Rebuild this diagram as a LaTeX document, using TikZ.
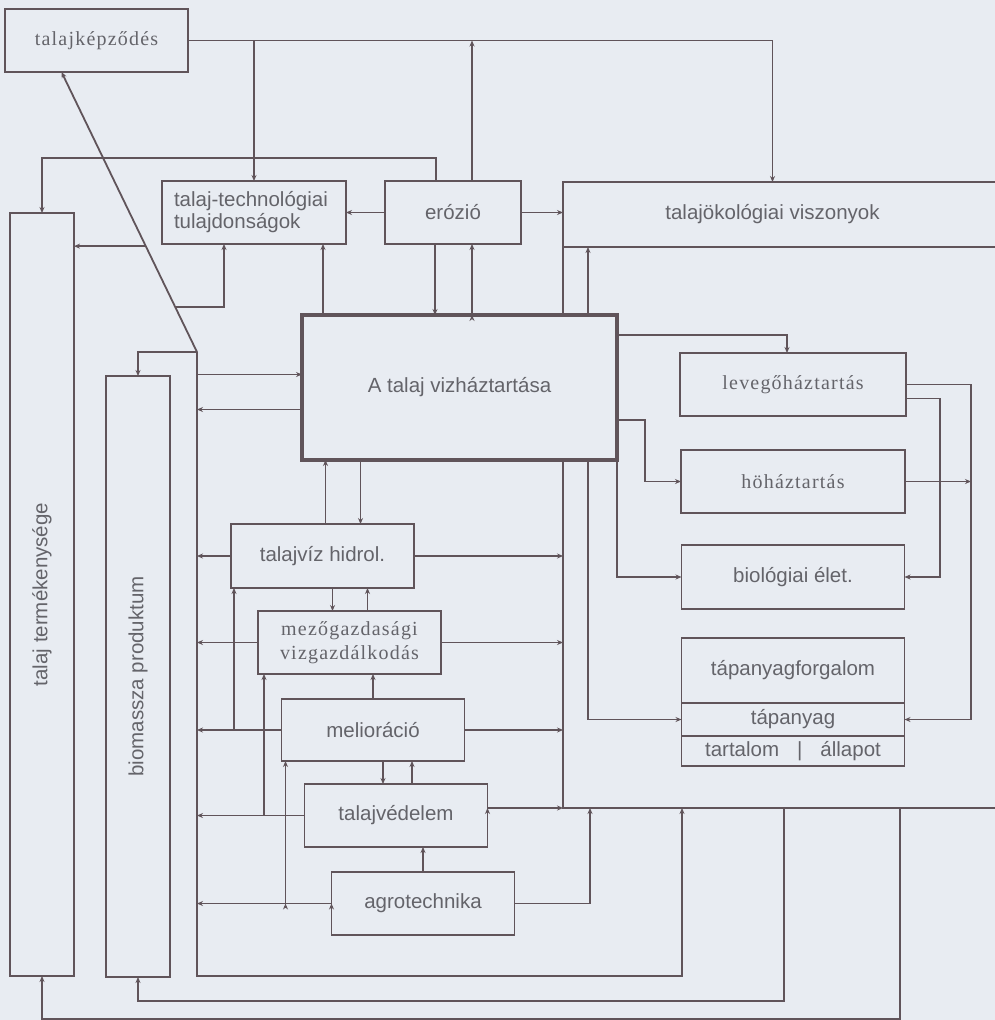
\documentclass[tikz,border=0pt]{standalone}
\usepackage{fontspec}
\setmainfont{Liberation Sans}
\newfontfamily\serifsp[LetterSpace=6]{Liberation Serif}
\usepackage{graphicx}
\usetikzlibrary{positioning,calc,arrows.meta}

\definecolor{paper}{RGB}{232,236,242}
\definecolor{ink}{RGB}{96,84,90}
\definecolor{txt}{RGB}{100,100,106}

\tikzset{
  box/.style={draw=ink, line width=1.8pt, fill=paper, text=txt, inner sep=0pt, outer sep=0pt,
    minimum width=183pt, minimum height=63pt, font=\fontsize{20.5}{22}\selectfont},
  srf/.style={font=\serifsp\fontsize{20}{24}\selectfont},
  wire/.style={draw=ink, line width=1.8pt}
}

\begin{document}
\begin{tikzpicture}[x=1pt, y=-1pt, >={Stealth[length=6pt,width=5pt]}]
\fill[paper] (0,0) rectangle (995,1020);
\useasboundingbox (0,0) rectangle (995,1020);

\node[box, srf](kepz) at (96.5,40.5) {talajképződés};
\node[box, minimum width=184pt, text width=160pt, align=left](tech) at (254,212.5) {talaj-technológiai\\tulajdonságok};
\node[box](eroz)[minimum width=136pt] at (453,212.5) {erózió};
\node[box, draw=none, fill=none, minimum width=419pt, minimum height=65pt](okol) at (772.5,214.5) {talajökológiai viszonyok};
\node[box, line width=4.5pt, minimum width=315pt, minimum height=145pt](main) at (459.5,387.5) {A talaj vizháztartása};
\node[box](taljv)[minimum height=64pt] at (322.5,556) {talajvíz hidrol.};
\node[box, srf, align=center](mezo)[below=23pt of taljv, xshift=27pt]{mezőgazdasági\\vizgazdálkodás};
\node[box](meli)[minimum height=62pt, below=25pt of mezo, xshift=23.5pt]{melioráció};
\node[box](tvd)[below=23pt of meli, xshift=23pt]{talajvédelem};
\node[box](agro)[below=25pt of tvd, xshift=27pt]{agrotechnika};
\node[box, minimum width=64pt, minimum height=763pt](term) at (42,594.5) {\rotatebox{90}{talaj termékenysége}};
\node[box, minimum width=64pt, minimum height=601pt](biom) at (138,676.5) {\rotatebox{90}{biomassza produktum}};
\node[box, srf, minimum width=226pt](lev) at (793,384.5) {levegőháztartás};
\node[box, srf, minimum width=224pt](ho)[below=34pt of lev]{höháztartás};
\node[box, minimum width=223pt, minimum height=64pt](bio)[below=32pt of ho]{biológiai élet.};
\node[box, minimum width=223pt, minimum height=65pt](tapf)[below=29pt of bio]{tápanyagforgalom};
\node[box, minimum width=223pt, minimum height=33pt](tapa)[below=0pt of tapf]{tápanyag};
\node[box, minimum width=223pt, minimum height=30pt](tapb)[below=0pt of tapa]{tartalom\hspace{18pt}|\hspace{18pt}állapot};

\coordinate (rim) at (1000,0);
\coordinate (fbl) at (okol.west |- 0,808);
\draw[wire] (okol.south west) -- (okol.north west) -- (okol.north west -| rim);
\draw[wire] (okol.south west) -- (okol.south west -| rim);
\draw[wire] (okol.south west) -- (okol.south west |- main.north);
\draw[wire] (okol.west |- main.south) -- (fbl) -- (fbl -| rim);

\coordinate (e1) at ([xshift=19pt]eroz.north);
\coordinate (e2) at ([xshift=-17pt]eroz.north);
\coordinate (e3) at ([xshift=-18pt]eroz.south);
\coordinate (e4) at ([xshift=19pt]eroz.south);
\draw[wire,->] (kepz.east) -| (okol.north);
\draw[wire,->] (kepz.east -| tech.north) -- (tech.north);
\draw[wire,->] (e1) -- (e1 |- kepz.east);
\draw[wire,->] (e2) -- ++(0,-23) -| (term.north);
\path[wire,->]
(eroz) edge (tech)
(eroz.east) edge (eroz.east -| okol.west)
(e3) edge (e3 |- main.north)
(e4 |- main.north) edge (e4);

\coordinate (bt) at (197,352);
\coordinate (bb) at (bt |- 0,976);
\coordinate (kt) at ([xshift=-35pt]kepz.south);
\coordinate (p1) at ($(bt)!0.378!(kt)$);
\coordinate (p2) at ($(bt)!0.161!(kt)$);
\coordinate (t1) at ([xshift=-30pt]tech.south);
\coordinate (t2) at ([xshift=69pt]tech.south);
\draw[wire,->] (bt) -- (kt);
\draw[wire,->] (p1) -- (p1 -| term.east);
\draw[wire,->] (p2) -| (t1);
\draw[wire,->] (t2 |- main.north) -- (t2);

\coordinate (c5) at ([xshift=25pt]okol.south west);
\coordinate (m3) at ([yshift=-20pt]main.north east);
\coordinate (m4) at ([yshift=40pt]main.south east);
\coordinate (l1) at ([xshift=-6pt]lev.north);
\coordinate (l2) at ([yshift=-14pt]lev.east);
\coordinate (r1) at ([xshift=65pt]lev.east);
\draw[wire,->] (c5 |- main.north) -- (c5);
\draw[wire,->] (c5 |- main.south) |- (tapa.west);
\draw[wire,->] (m3) -| (l1);
\draw[wire,->] (m4) -- ++(28,0) |- (ho.west);
\draw[wire,->] (main.south east) |- (bio.west);
\draw[wire,->] (lev.east) -- (r1) |- (tapa.east);
\draw[wire,->] (l2) -- ++(34,0) |- (bio.east);
\draw[wire,->] (ho.east) -- (ho.east -| r1);

\coordinate (m1) at ([yshift=13pt]main.west);
\coordinate (m2) at ([yshift=-22pt]main.west);
\draw[wire,->] (bt) -- (bb) -| ([xshift=119pt]fbl);
\draw[wire,->] (bt) -| (biom.north);
\draw[wire,->] (m1 -| bt) -- (m1);
\path[wire,->]
(m2) edge (m2 -| bt)
(taljv.west) edge (taljv.west -| bt)
(mezo.west) edge (mezo.west -| bt)
(meli.west) edge (meli.west -| bt)
(tvd.west) edge (tvd.west -| bt)
(agro.west) edge (agro.west -| bt);

\coordinate (h1) at ([xshift=3pt]taljv.north);
\coordinate (h2) at ([xshift=38pt]taljv.north);
\coordinate (h3) at ([xshift=10pt]taljv.south);
\coordinate (h4) at ([xshift=45pt]taljv.south);
\coordinate (k1) at ([xshift=10pt]meli.south);
\coordinate (k2) at ([xshift=39pt]meli.south);
\coordinate (q1) at ([xshift=3pt]taljv.south west);
\coordinate (q2) at ([xshift=6pt]mezo.south west);
\coordinate (q3) at ([xshift=4pt]meli.south west);
\path[wire,->]
(h1) edge (h1 |- main.south)
(h2 |- main.south) edge (h2)
(h3) edge (h3 |- mezo.north)
(h4 |- mezo.north) edge (h4)
(meli.north) edge (meli.north |- mezo.south)
(k1) edge (k1 |- tvd.north)
(k2 |- tvd.north) edge (k2)
(agro.north) edge (agro.north |- tvd.south)
(q1 |- meli.west) edge (q1)
(q2 |- tvd.west) edge (q2)
(q3 |- agro.west) edge (q3);

\path[wire,->]
(taljv.east) edge (taljv.east -| fbl)
(mezo.east) edge (mezo.east -| fbl)
(meli.east) edge (meli.east -| fbl)
(tvd.east |- fbl) edge (fbl);
\draw[wire,->] (agro.east) -| ([xshift=27pt]fbl);
\draw[wire,->] ([xshift=221pt]fbl) |- (biom.south |- 0,1001) -- (biom.south);
\draw[wire,->] ([xshift=337pt]fbl) |- (term.south |- 0,1019) -- (term.south);

\end{tikzpicture}
\end{document}
